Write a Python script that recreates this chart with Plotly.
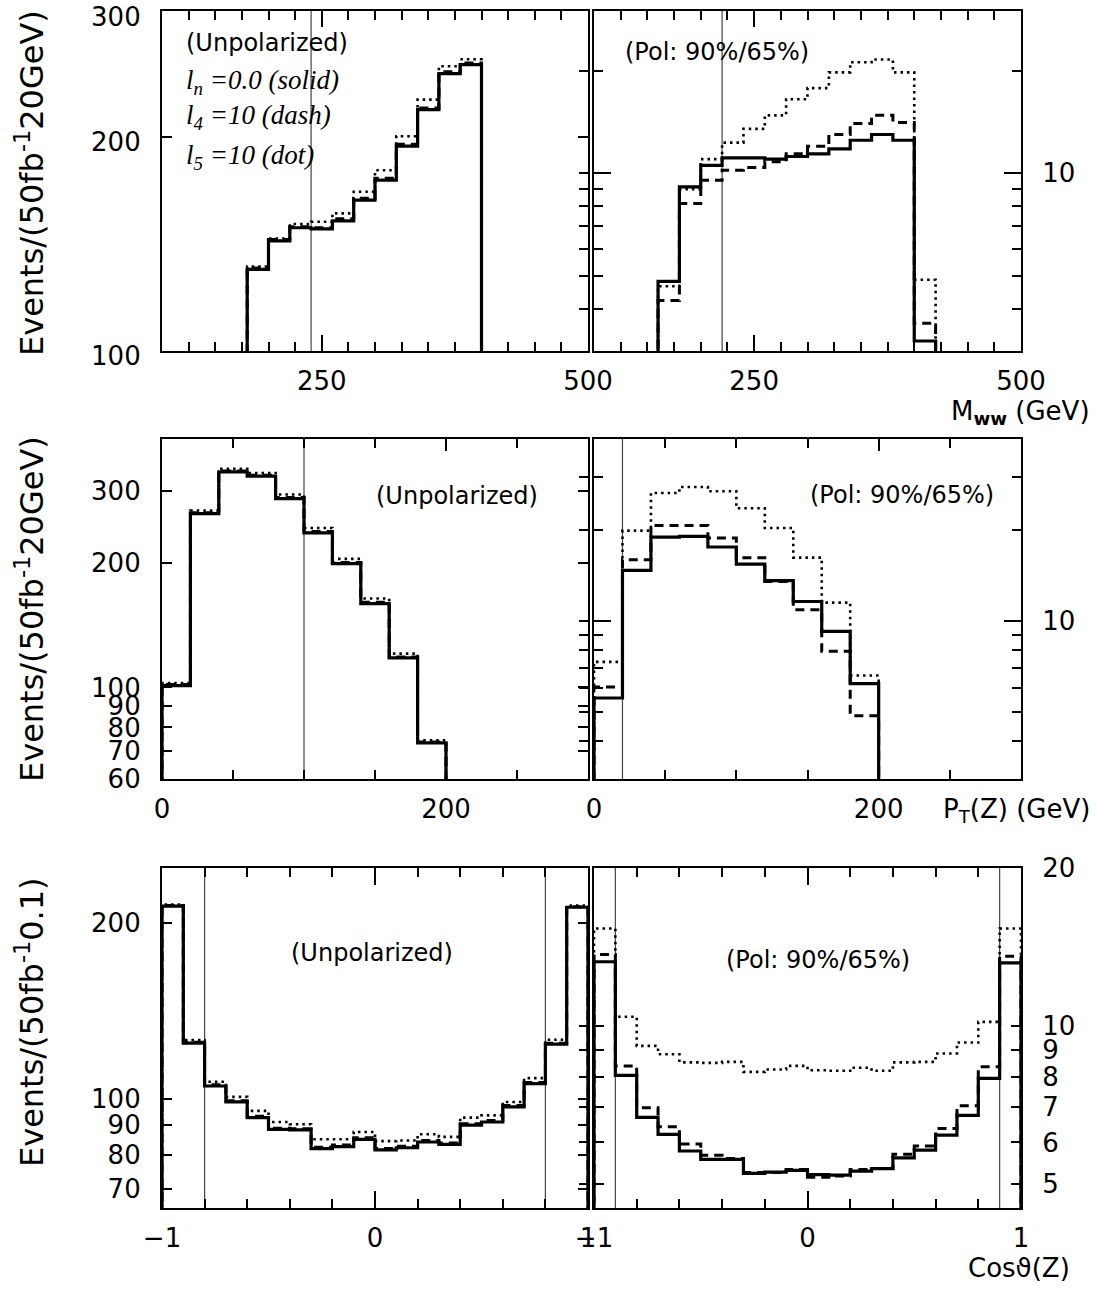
import plotly.graph_objects as go
import math

# ---------------- data ----------------
# M_WW, unpolarized (20 GeV bins)
mww_unpol_edges = [180, 200, 220, 240, 260, 280, 300, 320, 340, 360, 380, 400]
mww_unpol_solid = [130.2, 142.8, 149.0, 148.5, 152.4, 162.9, 173.8, 194.0, 218.4, 245.4, 252.6]
mww_unpol_dash = [130.8, 143.4, 149.5, 149.0, 153.4, 163.9, 174.9, 195.2, 219.6, 246.8, 254.0]
mww_unpol_dot = [131.4, 143.9, 150.8, 151.9, 156.1, 167.4, 179.5, 200.4, 225.6, 251.3, 257.0]
# M_WW, polarized
mww_pol_edges = [160, 180, 200, 220, 240, 260, 280, 300, 320, 340, 360, 380, 400, 420]
mww_pol_solid = [4.81, 9.12, 10.55, 11.1, 11.1, 11.0, 11.2, 11.4, 11.8, 12.5, 13.0, 12.5, 3.21]
mww_pol_dash = [4.22, 8.15, 9.54, 10.2, 10.4, 10.8, 11.4, 12.0, 13.0, 14.0, 14.8, 14.1, 3.62]
mww_pol_dot = [4.65, 8.98, 11.0, 12.3, 13.5, 14.8, 16.5, 17.8, 19.8, 21.2, 21.6, 19.8, 4.86]

# PT(Z)
pt_edges = [0, 20, 40, 60, 80, 100, 120, 140, 160, 180, 200]
pt_unpol_solid = [101.0, 263.9, 333.0, 325.0, 286.8, 236.9, 199.6, 159.7, 117.9, 73.4]
pt_unpol_dash = [101.6, 265.2, 334.6, 326.8, 288.6, 238.6, 200.8, 160.8, 118.6, 73.8]
pt_unpol_dot = [102.5, 268.3, 338.6, 331.0, 293.4, 243.5, 204.9, 164.2, 120.8, 74.5]
pt_pol_solid = [5.56, 14.7, 18.95, 19.05, 17.57, 15.43, 13.6, 11.6, 9.24, 6.2]
pt_pol_dash = [6.05, 15.95, 20.7, 20.7, 18.8, 16.2, 13.5, 10.9, 7.94, 4.86]
pt_pol_dot = [7.32, 19.9, 26.5, 27.75, 26.85, 23.6, 20.3, 16.2, 11.5, 6.6]

# cos(theta_Z)
cos_edges = [-1.0, -0.9, -0.8, -0.7, -0.6, -0.5, -0.4, -0.3, -0.2, -0.1, 0.0,
             0.1, 0.2, 0.3, 0.4, 0.5, 0.6, 0.7, 0.8, 0.9, 1.0]
cos_unpol_solid = [213.4, 124.4, 105.1, 98.7, 92.8, 88.6, 88.4, 82.1, 82.8, 85.2,
                   81.7, 82.4, 84.3, 83.5, 90.1, 91.2, 96.8, 106.1, 123.9, 212.5]
cos_unpol_dash = [213.9, 124.8, 105.6, 99.2, 93.3, 89.0, 88.8, 82.6, 83.3, 85.7,
                  82.2, 82.9, 84.8, 84.0, 90.6, 91.7, 97.3, 106.6, 124.4, 213.0]
cos_unpol_dot = [214.8, 125.9, 106.9, 100.7, 95.3, 91.2, 90.4, 85.2, 85.2, 87.7,
                 84.6, 84.8, 86.9, 86.0, 92.8, 93.6, 98.7, 108.4, 126.1, 213.9]
cos_pol_solid = [13.27, 8.06, 6.70, 6.22, 5.78, 5.57, 5.57, 5.24, 5.27, 5.31,
                 5.21, 5.20, 5.29, 5.35, 5.61, 5.80, 6.20, 6.76, 7.95, 13.2]
cos_pol_dash = [13.7, 8.40, 6.99, 6.43, 5.96, 5.67, 5.59, 5.26, 5.26, 5.33,
                5.15, 5.18, 5.33, 5.35, 5.70, 5.91, 6.38, 7.05, 8.37, 13.6]
cos_pol_dot = [15.36, 10.42, 9.17, 8.84, 8.53, 8.51, 8.55, 8.18, 8.27, 8.40,
               8.24, 8.22, 8.33, 8.22, 8.53, 8.55, 8.87, 9.31, 10.19, 15.36]

# cut positions (vertical lines)
cut_mww_unpol = [240]
cut_mww_pol = [220]
cut_pt_unpol = [100]
cut_pt_pol = [20]
cut_cos_unpol = [-0.8, 0.8]
cut_cos_pol = [-0.9, 0.9]

# axis ranges
mww_range = [100, 500]
pt_range = [0, 300]
cos_range = [-1, 1]
yr_mww_unpol = [100, 300.5]
yr_mww_pol = [3, 30]
yr_pt_unpol = [60, 400]
yr_pt_pol = [3, 40]
yr_cos_unpol = [65, 248]
yr_cos_pol = [4.5, 20.03]

# ---------------- geometry ----------------
W, H = 1120, 1289


def fx(p):
    return p / W


def fy(p):
    return 1 - p / H


XL = [fx(162), fx(588)]
XR = [fx(594), fx(1021)]
ROWS = [(11, 351), (439, 779), (868, 1208)]
YD = [[fy(b), fy(t)] for t, b in ROWS]

TICKFONT = dict(family="DejaVu Sans", size=26, color="black")
LW = 2.2
FLOOR = 1e-3

fig = go.Figure()


def step(edges, vals, xa, ya, style):
    xs = [edges[0]] + list(edges[:-1]) + [edges[-1], edges[-1]]
    ys = [FLOOR] + list(vals) + [vals[-1], FLOOR]
    if style == "solid":
        line = dict(color="black", width=3.2)
    elif style == "dash":
        line = dict(color="black", width=3, dash="9px,6px")
    else:
        line = dict(color="black", width=2.6, dash="2.5px,4px")
    fig.add_trace(go.Scatter(x=xs, y=ys, mode="lines", line_shape="hv", line=line,
                             xaxis=xa, yaxis=ya, showlegend=False, hoverinfo="skip"))


panels = [
    ("x", "y", mww_unpol_edges, mww_unpol_solid, mww_unpol_dash, mww_unpol_dot, cut_mww_unpol),
    ("x2", "y2", mww_pol_edges, mww_pol_solid, mww_pol_dash, mww_pol_dot, cut_mww_pol),
    ("x3", "y3", pt_edges, pt_unpol_solid, pt_unpol_dash, pt_unpol_dot, cut_pt_unpol),
    ("x4", "y4", pt_edges, pt_pol_solid, pt_pol_dash, pt_pol_dot, cut_pt_pol),
    ("x5", "y5", cos_edges, cos_unpol_solid, cos_unpol_dash, cos_unpol_dot, cut_cos_unpol),
    ("x6", "y6", cos_edges, cos_pol_solid, cos_pol_dash, cos_pol_dot, cut_cos_pol),
]

shapes = []
for xa, ya, e, s, d, o, cuts in panels:
    step(e, o, xa, ya, "dot")
    step(e, d, xa, ya, "dash")
    step(e, s, xa, ya, "solid")
    for c in cuts:
        shapes.append(dict(type="line", xref=xa, yref=ya + " domain", x0=c, x1=c, y0=0, y1=1,
                           line=dict(color="#444", width=1.2), layer="below"))

# dummy traces for overlay axes
for xa, ya in [("x", "y7"), ("x3", "y8"), ("x5", "y9")]:
    fig.add_trace(go.Scatter(x=[], y=[], xaxis=xa, yaxis=ya, showlegend=False))


def xaxis(domain, anchor, rng, major, labels, minor, majlen):
    return dict(domain=domain, anchor=anchor, range=rng, tickmode="array", tickvals=major,
                ticktext=labels, ticks="inside", ticklen=majlen, tickwidth=1.5, tickcolor="black",
                showline=True, linewidth=LW, linecolor="black", mirror="ticks",
                showgrid=False, zeroline=False, automargin=False, tickfont=TICKFONT,
                ticklabelstandoff=6, ticklabeloverflow="allow",
                minor=dict(tickmode="array", tickvals=minor, ticks="inside", ticklen=9,
                           tickwidth=1.5, tickcolor="black", showgrid=False))


def yaxis(domain, anchor, rng, major, labels, minor, side, majlen, shift=0):
    d = dict(domain=domain, anchor=anchor, type="log",
             range=[math.log10(rng[0]), math.log10(rng[1])], tickmode="array",
             tickvals=major, ticktext=labels, ticks="inside", ticklen=majlen, tickwidth=1.5,
             tickcolor="black", showline=True, linewidth=LW, linecolor="black", mirror="ticks",
             showgrid=False, zeroline=False, automargin=False, tickfont=TICKFONT, side=side,
             ticklabelstandoff=14, ticklabeloverflow="allow", ticklabelshift=shift)
    if minor:
        d["minor"] = dict(tickmode="array", tickvals=minor, ticks="inside", ticklen=9,
                          tickwidth=1.5, tickcolor="black", showgrid=False)
    return d


def overlay(base, anchor, rng, vals):
    return dict(overlaying=base, anchor=anchor, side="right", type="log",
                range=[math.log10(rng[0]), math.log10(rng[1])], tickmode="array",
                tickvals=vals, ticks="inside", ticklen=9, tickwidth=1.5, tickcolor="black",
                showticklabels=False, showline=False, showgrid=False, zeroline=False,
                automargin=False)


mww_minor = [125, 150, 175, 200, 225, 275, 300, 325, 350, 375, 400, 425, 450, 475]
pt_minor = [50, 100, 150, 250]
cos_minor = [-0.8, -0.6, -0.4, -0.2, 0.2, 0.4, 0.6, 0.8]

layout = dict(
    width=W, height=H, autosize=False, margin=dict(l=0, r=0, t=0, b=0),
    paper_bgcolor="white", plot_bgcolor="white", showlegend=False,
    xaxis=xaxis(XL, "y", mww_range, [250, 500], ["250", "500"], mww_minor, 16),
    xaxis2=xaxis(XR, "y2", mww_range, [250, 500], ["250", "500"], mww_minor, 16),
    xaxis3=xaxis(XL, "y3", pt_range, [0, 200], ["0", "200"], pt_minor, 12),
    xaxis4=xaxis(XR, "y4", pt_range, [0, 200], ["0", "200"], pt_minor, 12),
    xaxis5=xaxis(XL, "y5", cos_range, [-1, 0, 1], ["\u22121", "0", "1"], cos_minor, 17),
    xaxis6=xaxis(XR, "y6", cos_range, [-1, 0, 1], ["\u22121", "0", "1"], cos_minor, 17),
    yaxis=yaxis(YD[0], "x", yr_mww_unpol, [100, 200, 300], ["100", "200", "300"], None, "left",
                10, shift=5),
    yaxis2=yaxis(YD[0], "x2", yr_mww_pol, [10], ["10"], [4, 5, 6, 7, 8, 9, 20], "right", 17),
    yaxis3=yaxis(YD[1], "x3", yr_pt_unpol, [60, 70, 80, 90, 100, 200, 300],
                 ["60", "70", "80", "90", "100", "200", "300"], None, "left", 10),
    yaxis4=yaxis(YD[1], "x4", yr_pt_pol, [10], ["10"], [4, 5, 6, 7, 8, 9, 20, 30], "right", 17),
    yaxis5=yaxis(YD[2], "x5", yr_cos_unpol, [70, 80, 90, 100, 200],
                 ["70", "80", "90", "100", "200"], None, "left", 10),
    yaxis6=yaxis(YD[2], "x6", yr_cos_pol, [5, 6, 7, 8, 9, 10, 20],
                 ["5", "6", "7", "8", "9", "10", "20"], None, "right", 10),
    yaxis7=overlay("y", "x", yr_mww_pol, [4, 5, 6, 7, 8, 9, 10, 20]),
    yaxis8=overlay("y3", "x3", yr_pt_pol, [4, 5, 6, 7, 8, 9, 10, 20, 30]),
    yaxis9=overlay("y5", "x5", yr_cos_pol, [5, 6, 7, 8, 9, 10, 20]),
    shapes=shapes,
)
fig.update_layout(**layout)

SANS = "DejaVu Sans"
ann = []


def A(text, x, y, size=24, xanchor="center", family=SANS, angle=0):
    ann.append(dict(text=text, x=fx(x), y=fy(y), xref="paper", yref="paper", showarrow=False,
                    xanchor=xanchor, yanchor="middle", textangle=angle,
                    font=dict(family=family, size=size, color="black")))


A("(Unpolarized)", 184, 43, xanchor="left")
SERIF = "Liberation Serif"
A("<i>l<sub>n</sub> =0.0 (solid)</i>", 184, 82, size=27, xanchor="left", family=SERIF)
A("<i>l<sub>4</sub> =10 (dash)</i>", 184, 117, size=27, xanchor="left", family=SERIF)
A("<i>l<sub>5</sub> =10 (dot)</i>", 184, 157, size=27, xanchor="left", family=SERIF)
A("(Pol: 90%/65%)", 623, 52, xanchor="left")
A("(Unpolarized)", 457, 496)
A("(Pol: 90%/65%)", 902, 495)
A("(Unpolarized)", 372, 953)
A("(Pol: 90%/65%)", 818, 960)

A("M<sub><b>ww</b></sub> (GeV)", 1092, 413, size=26, xanchor="right")
A("P<sub>T</sub>(Z) (GeV)", 1092, 811, size=26, xanchor="right")
A("Cos\u03d1(Z)", 1072, 1268, size=26, xanchor="right")

A("Events/(50fb<sup>-1</sup>20GeV)", 30, 183, size=32, angle=-90)
A("Events/(50fb<sup>-1</sup>20GeV)", 30, 609, size=32, angle=-90)
A("Events/(50fb<sup>-1</sup>0.1)", 30, 1022, size=32, angle=-90)

fig.update_layout(annotations=ann)

fig.write_html("out.html", config={"displayModeBar": False, "responsive": False},
               post_script="document.body.style.margin='0';")
